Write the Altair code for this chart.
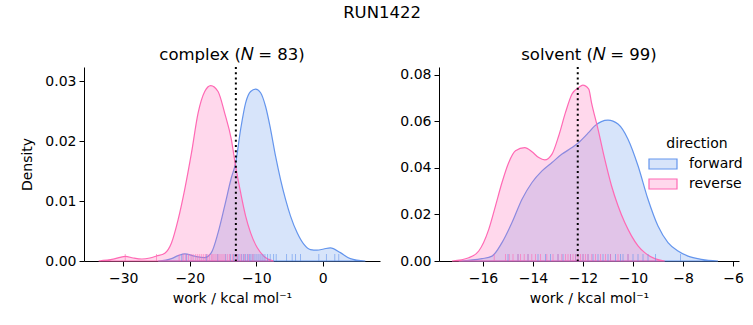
import altair as alt
import pandas as pd

BLUE = "#6495ED"
PINK = "#FF69B4"
BLUE_FILL = "rgba(100,149,237,0.26)"
PINK_FILL = "rgba(255,105,180,0.26)"
FONT = "DejaVu Sans"

# ---- density curves ----
cx_rev = [-33.7, -31.5, -29.7, -28.5, -27.2, -26.0, -25.0, -23.75, -22.75, -21.75, -20.75, -19.75, -18.75, -17.75,
          -16.85, -15.75, -14.75, -13.75, -13.1, -12.35, -11.6, -10.85, -9.85, -8.86, -7.36]
cy_rev = [0.0, 0.0003, 0.00078, 0.0005, 0.00033, 0.0005, 0.00083, 0.0013, 0.003, 0.0069, 0.012, 0.018, 0.0247, 0.0283,
          0.0293, 0.0283, 0.0247, 0.0203, 0.0158, 0.0114, 0.0075, 0.0047, 0.0022, 0.0008, 0.0]
cx_fwd = [-24.75, -22.75, -21.75, -20.75, -19.25, -17.75, -16.75, -15.75, -14.75, -13.75, -13.1, -12.35, -11.6, -10.85,
          -10.1, -9.35, -8.6, -7.85, -7.1, -6.35, -5.6, -4.85, -3.85, -2.86, -1.86, -0.86, 0.14, 1.14, 2.64, 4.14, 6.4]
cy_fwd = [0.0, 0.0004, 0.0009, 0.0012, 0.0008, 0.00056, 0.0014, 0.0047, 0.0092, 0.0139, 0.0164, 0.022, 0.0264, 0.0283,
          0.0287, 0.0281, 0.0258, 0.022, 0.0175, 0.0136, 0.0103, 0.0075, 0.0047, 0.0028, 0.0019, 0.0018, 0.0020, 0.0022,
          0.0014, 0.0004, 0.0]

sx_rev = [-17.24, -16.57, -16.17, -15.77, -15.5, -15.24, -14.97, -14.7, -14.33, -14.04, -13.77, -13.53, -13.24, -12.97,
          -12.7, -12.44, -12.17, -12.01, -11.77, -11.66, -11.4, -11.13, -10.86, -10.6, -10.33, -10.06, -9.8, -9.53,
          -9.13, -8.73]
sy_rev = [0.0, 0.0014, 0.0043, 0.0136, 0.0237, 0.0337, 0.0423, 0.0473, 0.0487, 0.0469, 0.0444, 0.0434, 0.0459, 0.0538,
          0.0638, 0.0717, 0.0745, 0.0755, 0.0738, 0.068, 0.0566, 0.0437, 0.0323, 0.0237, 0.0165, 0.0108, 0.0065, 0.0036,
          0.001, 0.0]
sx_fwd = [-16.97, -16.04, -15.64, -15.24, -14.84, -14.44, -14.04, -13.64, -13.24, -12.84, -12.44, -12.17, -11.77,
          -11.53, -11.0, -10.6, -10.2, -9.8, -9.4, -9.0, -8.6, -8.2, -7.8, -7.26, -6.6]
sy_fwd = [0.0, 0.001, 0.0021, 0.0079, 0.0165, 0.0265, 0.0337, 0.0387, 0.0423, 0.0459, 0.0487, 0.0509, 0.0552,
          0.058, 0.0605, 0.0588, 0.0523, 0.0409, 0.0265, 0.015, 0.0079, 0.0043, 0.0021, 0.0007, 0.0]

# ---- individual work values (rug), estimated ----
rug_c_rev = [-29.7, -25.0, -21.6, -21.0, -20.6, -20.2, -19.8, -19.5, -19.1, -18.8, -18.5, -18.2, -17.9, -17.6, -17.3,
             -17.0, -16.7, -16.5, -16.2, -15.9, -15.6, -15.3, -15.0, -14.7, -14.3, -14.0, -13.6, -13.2, -12.8, -12.3,
             -11.8, -11.2, -10.5]
rug_c_fwd = [-21.2, -20.5, -17.5, -15.8, -14.6, -13.9, -13.4, -12.9, -12.6, -12.2, -11.9, -11.6, -11.3, -11.0, -10.8,
             -10.5, -10.2, -9.9, -9.6, -9.3, -9.0, -8.7, -8.3, -7.9, -7.4, -7.0, -5.45, -4.6, -4.1, -3.35, -0.6, 0.55,
             1.8, 2.4]
rug_s_rev = [-15.55, -15.1, -14.95, -14.8, -14.6, -14.5, -14.35, -14.2, -14.05, -13.9, -13.7, -13.45, -13.2, -13.0,
             -12.85, -12.7, -12.6, -12.5, -12.4, -12.3, -12.2, -12.1, -12.0, -11.9, -11.8, -11.65, -11.5, -11.3, -11.1,
             -10.9, -10.6, -10.2]
rug_s_fwd = [-15.0, -14.6, -14.2, -13.8, -13.5, -13.3, -13.0, -12.8, -12.5, -12.3, -12.0, -11.8, -11.6, -11.4, -11.2,
             -11.0, -10.9, -10.7, -10.5, -10.4, -10.2, -10.0, -9.8, -9.6, -9.4, -9.1, -8.1]

# dotted reference lines (free-energy estimate)
ref_complex = -13.07
ref_solvent = -12.21

directions = ["forward", "reverse"]


def curve_df(xf, yf, xr, yr):
    return pd.DataFrame({
        "work": list(xf) + list(xr),
        "density": list(yf) + list(yr),
        "direction": ["forward"] * len(xf) + ["reverse"] * len(xr),
    })


def rug_df(f, r):
    return pd.DataFrame({
        "work": list(f) + list(r),
        "direction": ["forward"] * len(f) + ["reverse"] * len(r),
    })


fill_scale = alt.Scale(domain=directions, range=[BLUE_FILL, PINK_FILL])
stroke_scale = alt.Scale(domain=directions, range=[BLUE, PINK])
LEG = alt.Legend(title="direction")


def panel(cdf, rdf, ref, xdom, xticks, ydom, yticks, title, w, h, ytitle):
    xs = alt.Scale(domain=xdom, nice=False, zero=False)
    ys = alt.Scale(domain=ydom, nice=False, zero=False)
    xax = alt.Axis(values=xticks, format="d", title="work / kcal mol\u207b\u00b9")
    if ytitle:
        yax = alt.Axis(values=yticks, format=".2f", title=ytitle)
    else:
        yax = alt.Axis(values=yticks, format=".2f", title=None)
    area = alt.Chart(cdf).mark_area(strokeWidth=1.2, interpolate="monotone").encode(
        x=alt.X("work:Q", scale=xs, axis=xax),
        y=alt.Y("density:Q", scale=ys, axis=yax, stack=None),
        fill=alt.Fill("direction:N", scale=fill_scale, legend=LEG),
        stroke=alt.Stroke("direction:N", scale=stroke_scale, legend=LEG),
    )
    rug = alt.Chart(rdf).mark_rule(strokeWidth=1, opacity=0.6).encode(
        x=alt.X("work:Q", scale=xs),
        y=alt.value(h - 7),
        y2=alt.value(h),
        stroke=alt.Stroke("direction:N", scale=stroke_scale, legend=LEG),
    )
    rule = alt.Chart(pd.DataFrame({"ref": [ref]})).mark_rule(
        color="black", strokeWidth=2, strokeDash=[2, 3.2]
    ).encode(x=alt.X("ref:Q", scale=xs))
    return alt.layer(area, rug, rule).properties(
        width=w, height=h,
        title=alt.TitleParams(title, fontSize=16.5, font=FONT, fontWeight="normal", color="black", offset=3),
    )


left = panel(curve_df(cx_fwd, cy_fwd, cx_rev, cy_rev), rug_df(rug_c_fwd, rug_c_rev), ref_complex,
             [-35.9, 8.6], [-30, -20, -10, 0], [0, 0.0324], [0, 0.01, 0.02, 0.03],
             "complex (\U0001D441 = 83)", 296, 194, "Density")
right = panel(curve_df(sx_fwd, sy_fwd, sx_rev, sy_rev), rug_df(rug_s_fwd, rug_s_rev), ref_solvent,
              [-17.76, -5.76], [-16, -14, -12, -10, -8, -6], [0, 0.0833], [0, 0.02, 0.04, 0.06, 0.08],
              "solvent (\U0001D441 = 99)", 300, 194, None)

chart = alt.hconcat(left, right, spacing=19).properties(
    title=alt.TitleParams("RUN1422", fontSize=16.5, font=FONT, fontWeight="normal", color="black",
                          anchor="middle", offset=25),
    padding={"left": 20, "top": 5, "right": 0, "bottom": 0},
).configure_view(stroke=None).configure_axis(
    grid=False, domainColor="black", tickColor="black", tickSize=5, labelFontSize=14, titleFontSize=14,
    labelFont=FONT, titleFont=FONT, labelColor="black", titleColor="black", titleFontWeight="normal",
    labelPadding=3, titlePadding=10, domainWidth=1, tickWidth=1,
).configure_axisX(labelPadding=5, titlePadding=6).configure_legend(
    orient="none", legendX=568, legendY=70, titleFontSize=14, labelFontSize=14, titleFont=FONT, labelFont=FONT,
    titleFontWeight="normal", titleColor="black", labelColor="black",
    symbolType="M-1.4,-0.5H1.4V0.5H-1.4Z", symbolSize=400, symbolStrokeWidth=1.2,
    titleAnchor="middle", rowPadding=1, titlePadding=2, labelOffset=15,
).configure_concat(spacing=19)

chart.save("out.html", embed_options={"renderer": "svg", "actions": False})
